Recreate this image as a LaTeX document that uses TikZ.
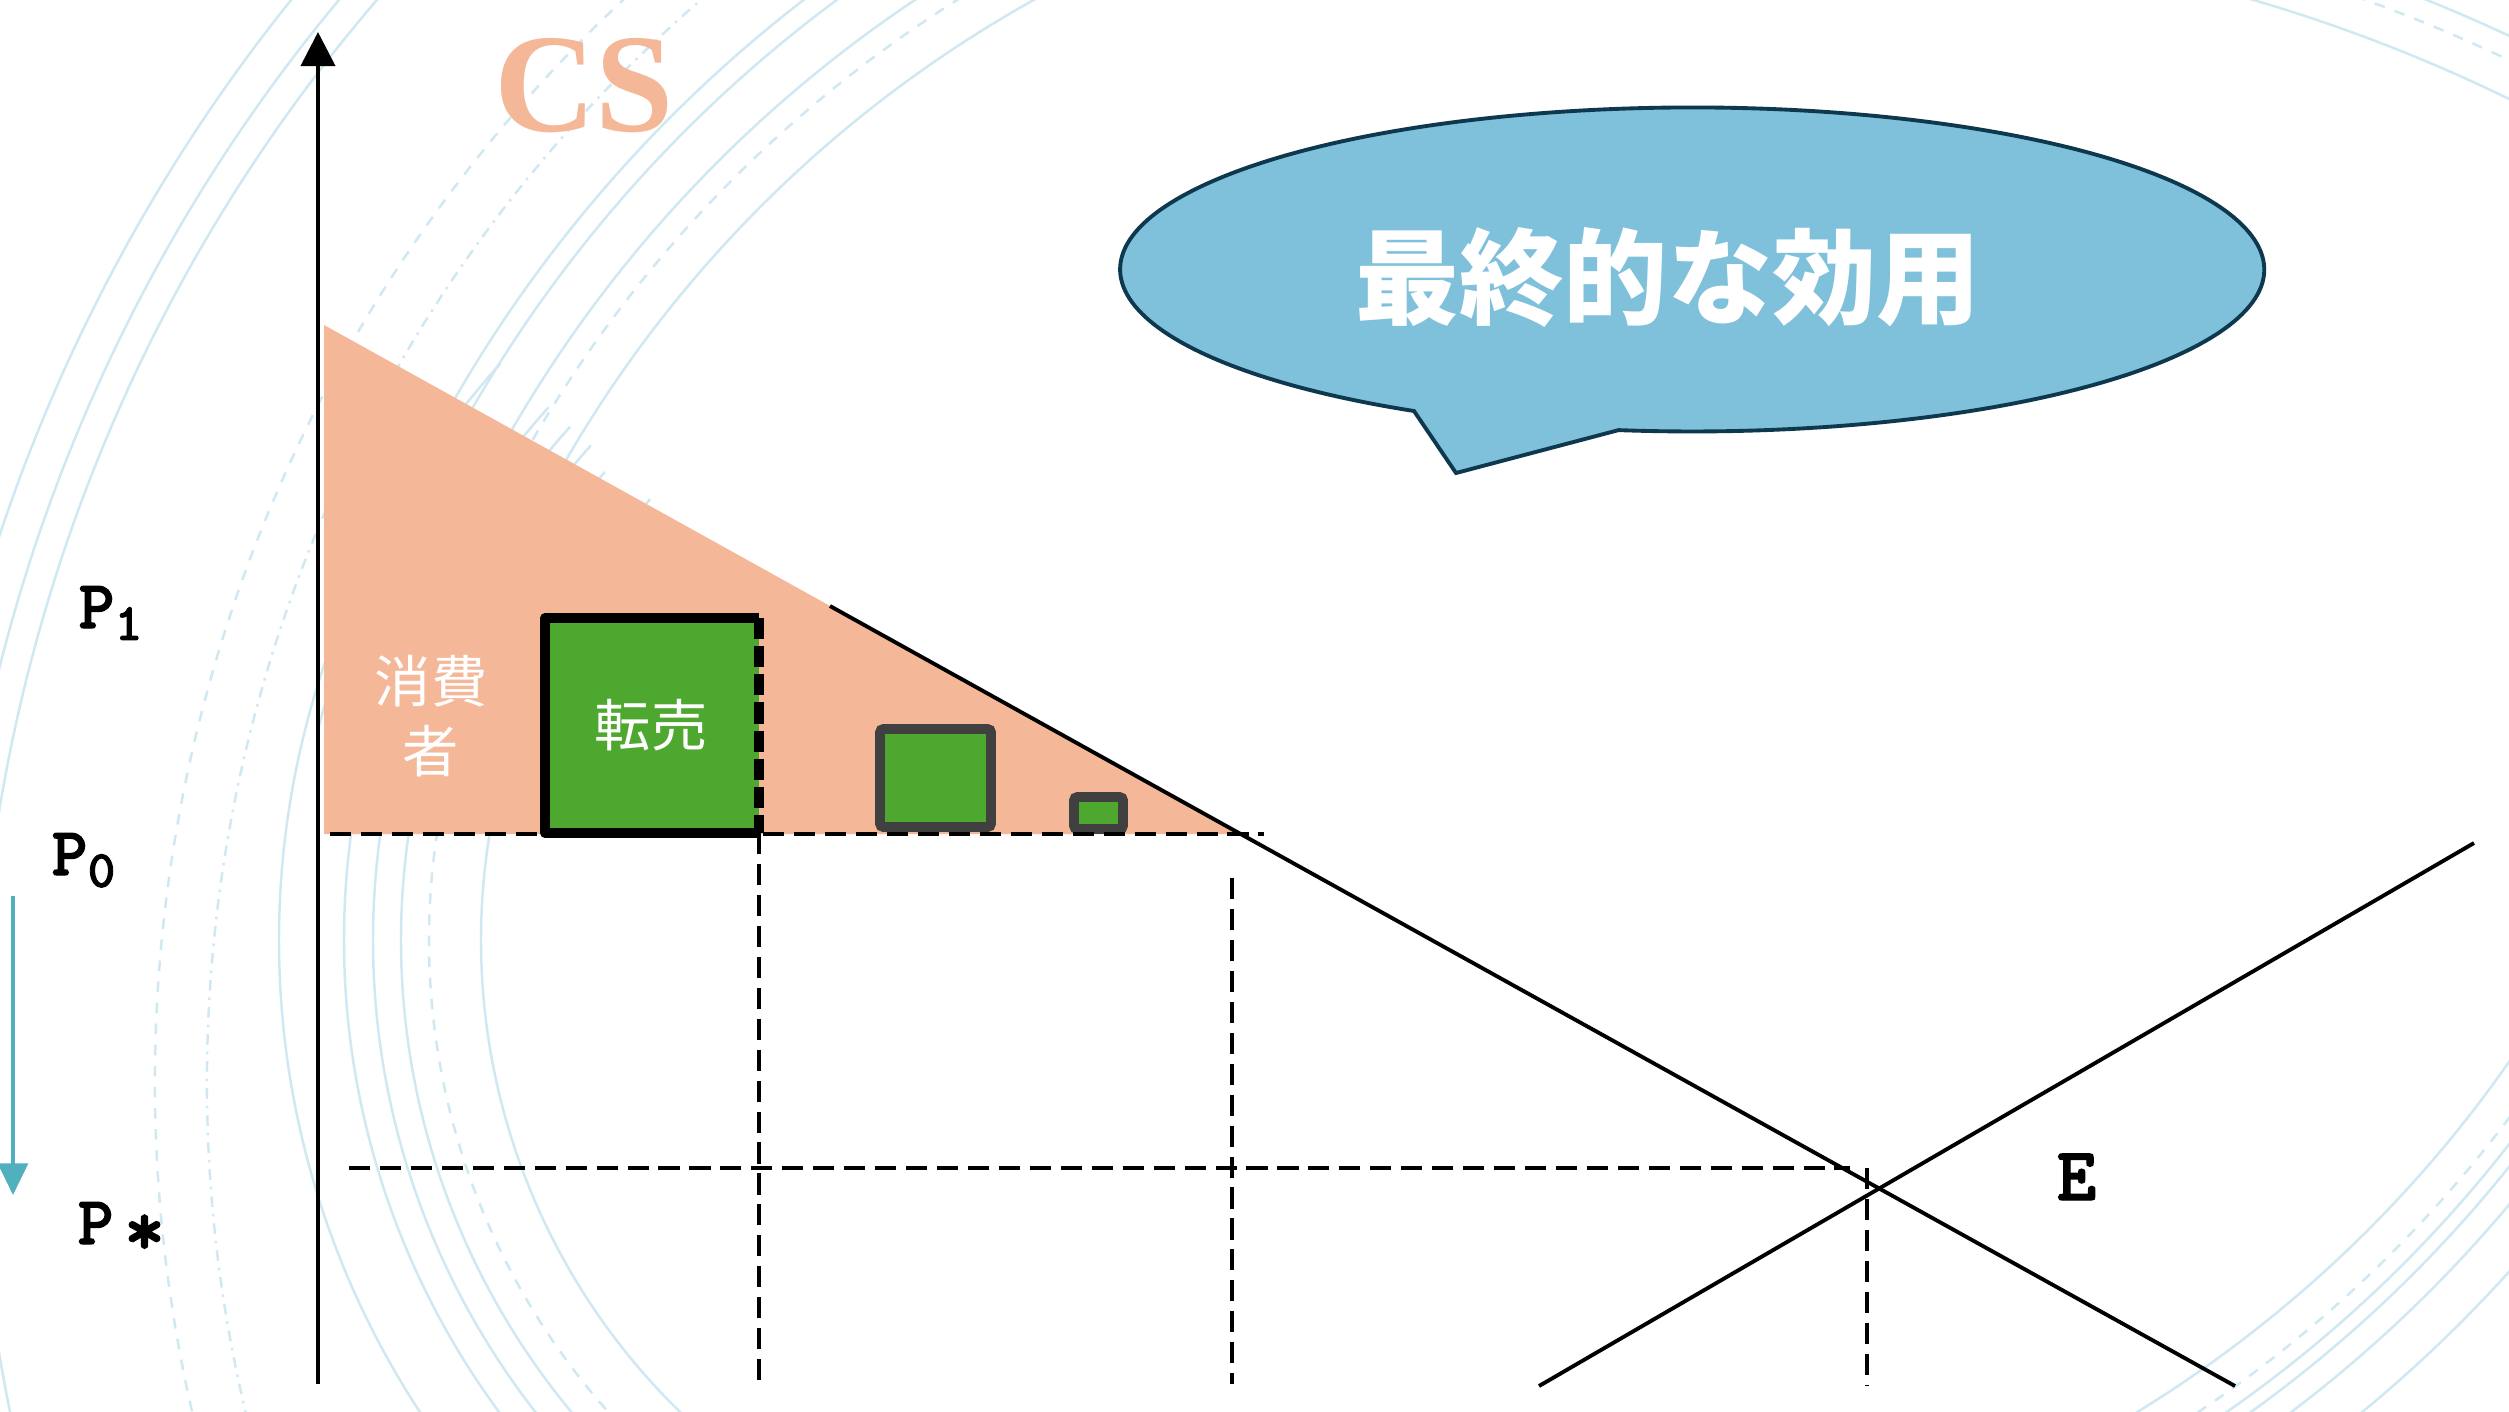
\documentclass[tikz,border=0pt]{standalone}
\usepackage{fontspec}
\setmainfont{Liberation Serif}
\newfontfamily\cjk{Noto Sans CJK JP}
\newfontfamily\plfont{lmmonolt10-bold.otf}[FakeBold=1.6]
\usetikzlibrary{arrows.meta}
\definecolor{cspink}{RGB}{244,183,152}
\definecolor{boxgreen}{RGB}{78,167,46}
\definecolor{boxgrey}{RGB}{64,64,64}
\definecolor{bubblefill}{RGB}{127,192,218}
\definecolor{bubbleline}{RGB}{14,56,78}
\definecolor{ripplec}{RGB}{208,232,242}
\definecolor{droparrow}{RGB}{80,176,190}
\tikzset{
	ripple/.style={draw=ripplec, line width=0.7pt},
	curve/.style={line width=1.1pt},
	guide/.style={line width=1pt, dash pattern=on 6pt off 2.8pt},
	plabel/.style={font=\plfont\fontsize{19.5}{24}\selectfont, inner sep=0pt, anchor=base west},
	jtext/.style={font=\cjk\fontsize{16}{20}\selectfont, text=white, align=center, inner sep=0pt},
	greenbox/.style={draw=boxgrey, fill=boxgreen, line width=2.8pt, rounded corners=1pt}
}
\begin{document}
\begin{tikzpicture}[x=0.01cm, y=-0.01cm]
			\useasboundingbox (0,0) rectangle (2509,1411);
			\fill[white] (0,0) rectangle (2509,1411);
			
			\begin{scope}
			\clip (0,0) rectangle (2509,1411);
			\foreach \r/\s in {659/solid, 711/dashed, 739/solid, 767/solid, 796/solid, 861/solid}
				\draw[ripple, \s] (1140,940) ++(120:\r) arc[start angle=120, end angle=222, radius=\r];
			\foreach \r/\s in {1238/solid, 1277/dashed, 1300/solid, 1345/solid, 1365/solid}
				\draw[ripple, \s] (1637,1081) ++(195:\r) arc[start angle=195, end angle=245, radius=\r];
			\foreach \r/\s in {1430/dash dot, 1482/dashed, 1660/solid, 1689/solid, 1726/solid}
				\draw[ripple, \s] (1637,1081) ++(150:\r) arc[start angle=150, end angle=235, radius=\r];
			\foreach \r/\s in {1615/solid, 1650/dashed, 1672/solid}
				\draw[ripple, \s] (1800,1550) ++(275:\r) arc[start angle=275, end angle=300, radius=\r];
			\foreach \r/\s in {1253/solid, 1286/dashed, 1302/solid, 1316/solid, 1340/solid, 1384/solid}
				\draw[ripple, \s] (1482,344) ++(20:\r) arc[start angle=20, end angle=75, radius=\r];
			\end{scope}
			
			\coordinate[](ybot) at (318,1384);
			\coordinate[](ytop) at (318,32);
			\coordinate[](dtop) at (324,325);
			\coordinate[](dblack) at (830,606);
			\coordinate[](dbot) at (2235,1386);
			\coordinate[](sbot) at (1539,1386);
			\coordinate[](stop) at (2474,843);
			\coordinate[](p0left) at (324,834);
			\coordinate[](p0right) at (1264,834);
			\coordinate[](dp0) at (intersection of dtop--dbot and p0left--p0right);
			\coordinate[](E) at (intersection of dtop--dbot and sbot--stop);
			
			\fill[cspink] (dtop) -- (dp0) -- (p0left) -- cycle;
			
			\fill[boxgreen] (545,618) rectangle (759,833);
			\draw[line width=2.8pt, line join=round] (759,618) -- (545,618) -- (545,833) -- (759,833);
			\draw[line width=2.8pt, dash pattern=on 6pt off 2pt] (759,618) -- (759,833);
			\draw[greenbox] (880,729) rectangle (991,827);
			\draw[greenbox] (1074,797) rectangle (1123,829);
			
			\draw[guide, line width=1.2pt] (330,834) -- (p0right);
			\draw[guide, line width=1.2pt] (349,1168) -- (1850,1168);
			\draw[guide] (759,833) -- (759,1384);
			\draw[guide] (1232,878) -- (1232,1384);
			\draw[guide] (1867,1168) -- (1867,1386);
			
			\draw[curve] (dblack) -- (dbot);
			\draw[curve] (sbot) -- (stop);
			\draw[line width=1.1pt, -{Triangle[length=9.7pt, width=9.7pt]}] (ybot) -- (ytop);
			\draw[droparrow, line width=0.9pt, -{Triangle[length=9pt, width=8.5pt]}] (13,896) -- (13,1195);
			
			\draw[fill=bubblefill, draw=bubbleline, line width=1.1pt] (1414,411) arc[start angle=119.1, end angle=457.4, x radius=572, y radius=162] -- (1456,473) -- cycle;
			\node[font=\cjk\bfseries\fontsize{29.6}{32}\selectfont, text=white] (utility) at (1668,278) {最終的な効用};
			
			\node[font=\bfseries\fontsize{40}{44}\selectfont, text=cspink] (cs) at (584,86) {CS};
			\node[jtext] (resale) at (651,725) {転売};
			\node[jtext] (consumer) at (431,716) {消費\\者};
			
			\node[plabel] (P1) at (78,628) {P\raisebox{-3.4pt}{\fontsize{15}{16}\selectfont 1}};
			\node[plabel] (P0) at (51,875) {P\raisebox{-3.4pt}{\fontsize{15}{16}\selectfont 0}};
			\node[plabel] (Pstar) at (77,1244) {P\hspace{3pt}\raisebox{-3.2pt}{\fontsize{22}{22}\selectfont *}};
			\node[plabel, font=\plfont\fontsize{21.5}{26}\selectfont] (Elabel) at (2056,1200) {E};
\end{tikzpicture}
\end{document}
